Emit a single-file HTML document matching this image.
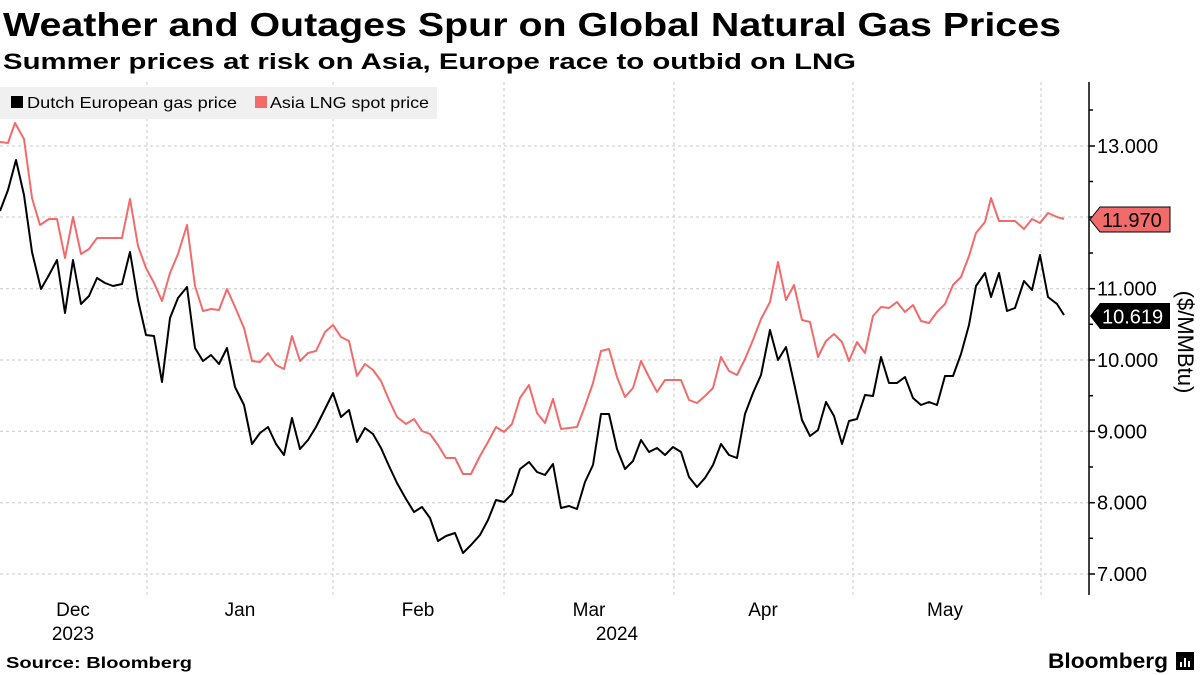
<!DOCTYPE html>
<html><head><meta charset="utf-8"><style>
html,body{margin:0;padding:0;background:#fff;}
svg{display:block;font-family:"Liberation Sans",sans-serif;}
</style></head><body>
<svg width="1200" height="675" viewBox="0 0 1200 675">
<text x="3" y="36" font-size="33" font-weight="bold" textLength="1058" lengthAdjust="spacingAndGlyphs">Weather and Outages Spur on Global Natural Gas Prices</text>
<text x="3" y="69" font-size="22" font-weight="bold" textLength="853" lengthAdjust="spacingAndGlyphs">Summer prices at risk on Asia, Europe race to outbid on LNG</text>
<g stroke="#c8c8c8" stroke-width="1" stroke-dasharray="3,3">
<line x1="0" x2="1089" y1="146" y2="146"/><line x1="0" x2="1089" y1="217" y2="217"/><line x1="0" x2="1089" y1="288.7" y2="288.7"/><line x1="0" x2="1089" y1="360" y2="360"/><line x1="0" x2="1089" y1="431.3" y2="431.3"/><line x1="0" x2="1089" y1="502.7" y2="502.7"/><line x1="0" x2="1089" y1="574" y2="574"/>
<line x1="147" x2="147" y1="82" y2="595"/><line x1="333" x2="333" y1="82" y2="595"/><line x1="504" x2="504" y1="82" y2="595"/><line x1="674" x2="674" y1="82" y2="595"/><line x1="853" x2="853" y1="82" y2="595"/><line x1="1041" x2="1041" y1="82" y2="595"/>
</g>
<rect x="0" y="87" width="437" height="32" fill="#f0f0f0"/>
<rect x="11" y="96" width="12" height="12" fill="#000"/>
<text x="27" y="108" font-size="16" textLength="210" lengthAdjust="spacingAndGlyphs">Dutch European gas price</text>
<rect x="255" y="96" width="12" height="12" fill="#f26b6b"/>
<text x="270" y="108" font-size="16" textLength="159" lengthAdjust="spacingAndGlyphs">Asia LNG spot price</text>
<polyline fill="none" stroke="#f26b6b" stroke-width="2" stroke-linejoin="round" points="0,142 8,143 15,123 24,139 32,198 40,225 49,219 57,219 65,258 73,217 81,254 89,249 97,238 105,238 113,238 122,238 130,199 138,246 146,268 154,283 162,301 170,273 178,254 187,225 195,286 203,311 211,309 219,310 227,289 235,307 244,328 252,361 260,362 268,353 276,365 284,369 292,336 300,361 308,353 316,351 325,332 333,325 341,337 349,341 357,376 365,364 373,370 381,381 389,400 397,417 406,424 414,419 422,431 430,434 438,445 446,458 455,458 463,474 471,474 480,456 488,442 496,427 504,432 512,424 520,398 529,385 537,413 545,423 553,399 561,429 569,428 577,427 585,406 593,383 601,351 609,349 617,377 625,397 633,388 641,361 649,377 657,392 665,380 673,380 681,380 689,400 697,403 705,396 713,388 721,357 729,371 737,375 745,359 753,340 761,319 770,302 778,262 786,300 794,285 802,320 810,322 818,357 826,341 834,334 842,342 849,361 857,342 865,353 873,316 881,307 889,308 897,302 905,312 913,305 921,321 929,323 937,312 945,304 953,285 961,277 969,256 976,233 985,222 991,198 999,221 1007,221 1015,221 1024,229 1032,219 1040,223 1048,213 1057,217 1064,219"/>
<polyline fill="none" stroke="#000" stroke-width="2" stroke-linejoin="round" points="0,211 8,190 16,160 24,195 32,252 41,289 49,275 57,260 65,313 73,260 81,304 89,296 97,278 105,283 113,286 122,284 130,252 138,300 146,335 154,336 162,382 170,318 178,298 187,287 195,348 203,361 211,355 219,364 227,348 235,387 244,405 252,444 260,433 268,427 276,444 284,455 292,418 300,449 308,440 316,427 325,409 333,393 341,417 349,410 357,442 365,428 373,434 381,448 389,466 397,483 406,499 414,512 422,507 430,518 438,541 446,536 455,533 463,553 471,545 480,535 488,520 496,500 504,502 512,494 520,469 529,462 537,472 545,475 553,464 561,508 569,506 577,509 585,482 593,465 601,414 609,414 617,449 625,469 633,461 641,440 649,452 657,448 665,455 673,447 681,452 689,477 697,487 705,478 713,465 721,444 729,455 737,458 745,414 753,393 761,375 770,330 778,360 786,347 794,383 802,420 810,436 818,430 826,402 834,416 842,444 849,421 857,419 865,395 873,396 881,357 889,383 897,383 905,377 913,398 921,405 929,402 937,405 945,376 953,376 961,354 969,325 976,286 985,273 991,297 999,273 1007,311 1015,308 1024,281 1032,290 1040,255 1048,297 1057,304 1064,315"/>
<line x1="1089" x2="1089" y1="82" y2="595" stroke="#000" stroke-width="1.5"/>
<g stroke="#000" stroke-width="1.5">
<line x1="1089" x2="1095" y1="146" y2="146"/><line x1="1089" x2="1093" y1="110" y2="110"/><line x1="1089" x2="1093" y1="181.5" y2="181.5"/><line x1="1089" x2="1095" y1="217" y2="217"/><line x1="1089" x2="1093" y1="253" y2="253"/><line x1="1089" x2="1095" y1="288.7" y2="288.7"/><line x1="1089" x2="1093" y1="324.3" y2="324.3"/><line x1="1089" x2="1095" y1="360" y2="360"/><line x1="1089" x2="1093" y1="395.7" y2="395.7"/><line x1="1089" x2="1095" y1="431.3" y2="431.3"/><line x1="1089" x2="1093" y1="467" y2="467"/><line x1="1089" x2="1095" y1="502.7" y2="502.7"/><line x1="1089" x2="1093" y1="538.3" y2="538.3"/><line x1="1089" x2="1095" y1="574" y2="574"/>
</g>
<g font-size="20" fill="#000">
<text x="1097" y="153">13.000</text>
<text x="1097" y="295.7">11.000</text>
<text x="1097" y="367">10.000</text>
<text x="1097" y="438.3">9.000</text>
<text x="1097" y="509.7">8.000</text>
<text x="1097" y="581">7.000</text>
</g>
<polygon points="1090,219.5 1100,207 1170,207 1170,232 1100,232" fill="#f26b6b" stroke="#000" stroke-width="1"/>
<text x="1102" y="227" font-size="20">11.970</text>
<polygon points="1090,316 1100,303 1170,303 1170,329 1100,329" fill="#000"/>
<text x="1102" y="323.5" font-size="20" fill="#fff">10.619</text>
<text transform="translate(1178,342) rotate(90)" font-size="22" text-anchor="middle">($/MMBtu)</text>
<g font-size="19" text-anchor="middle">
<text x="73" y="616">Dec</text><text x="73" y="640">2023</text>
<text x="240" y="616">Jan</text>
<text x="418" y="616">Feb</text>
<text x="589" y="616">Mar</text><text x="617" y="640">2024</text>
<text x="763" y="616">Apr</text>
<text x="945" y="616">May</text>
</g>
<text x="6" y="668" font-size="16" font-weight="bold" textLength="186" lengthAdjust="spacingAndGlyphs">Source: Bloomberg</text>
<text x="1048" y="668" font-size="21" font-weight="bold" textLength="120" lengthAdjust="spacingAndGlyphs">Bloomberg</text>
<rect x="1176" y="652" width="18" height="18" fill="#000"/>
<rect x="1180" y="662" width="2" height="5" fill="#fff"/><rect x="1184" y="658" width="2" height="9" fill="#fff"/><rect x="1188" y="661" width="2" height="6" fill="#fff"/>
</svg>
</body></html>
